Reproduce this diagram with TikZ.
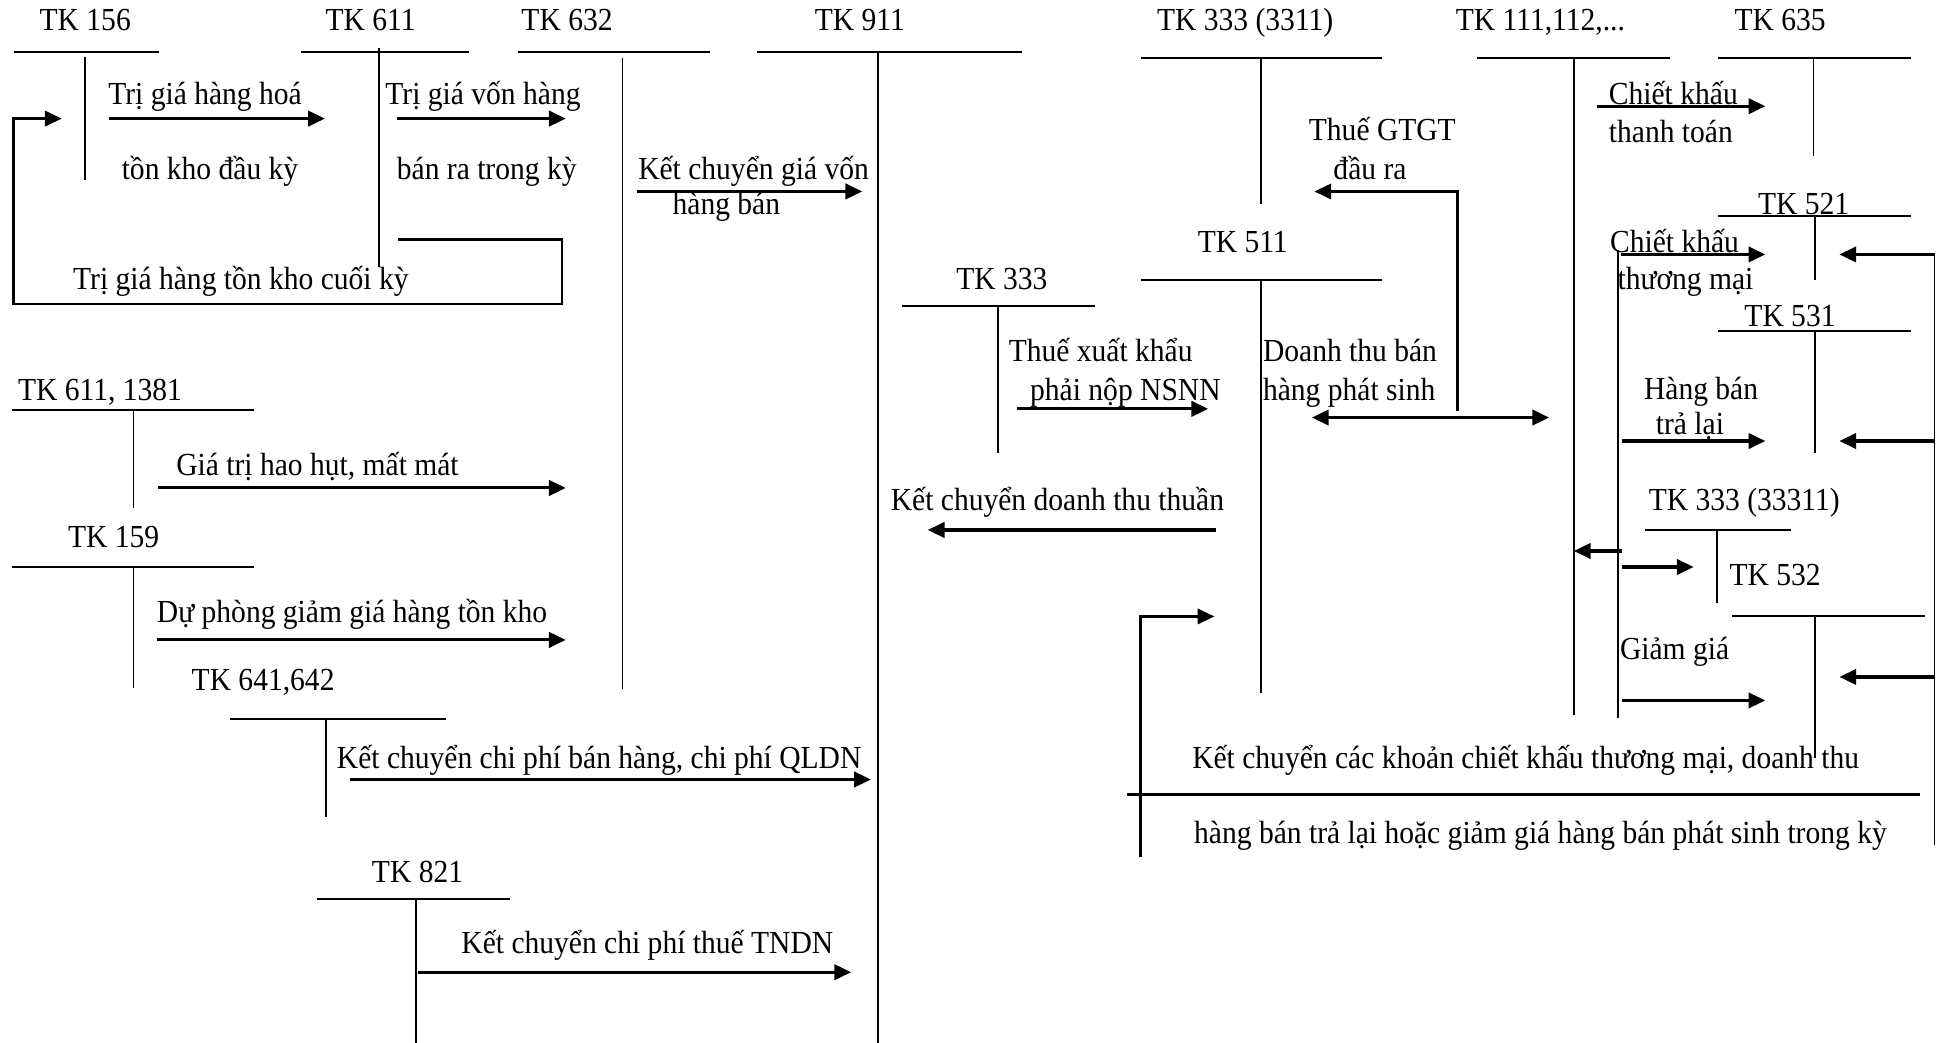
\documentclass[tikz,border=0pt]{standalone}
\usepackage{fontspec}
\setmainfont{Liberation Serif}[FakeStretch=0.92]
\usetikzlibrary{arrows.meta}
\begin{document}
\begin{tikzpicture}[x=0.5pt,y=-0.5pt,
  hl/.style={line width=0.85pt},
  vl/.style={line width=0.7pt},
  arr/.style={line width=1.25pt,-{Triangle[length=6.8pt,width=6.2pt]}},
  darr/.style={line width=1.25pt,{Triangle[length=6.8pt,width=6.2pt]}-{Triangle[length=6.8pt,width=6.2pt]}},
  bent/.style={line width=1.05pt,-{Triangle[length=6.8pt,width=6.2pt]}},
  lbl/.style={inner sep=0pt,anchor=base,yshift=1pt,font=\fontsize{13}{15}\selectfont},
  lblw/.style={lbl,anchor=base west}]
\useasboundingbox[fill=white] (0,0) rectangle (1568,844);

% ---------- T-accounts ----------
\node[lbl] (t156) at (69,27) {TK 156};
\draw[hl] (11,42) -- (129,42); \draw[vl] (69,46) -- (69,146);

\node[lbl] (t611) at (300,27) {TK 611};
\draw[hl] (244,42) -- (380,42); \draw[vl] (307,39) -- (307,216);

\node[lbl] (t632) at (459,27) {TK 632};
\draw[hl] (419,42) -- (575,42); \draw[vl] (504,47) -- (504,558);

\node[lbl] (t911) at (696,27) {TK 911};
\draw[hl] (613,42) -- (827,42); \draw[vl] (711,42) -- (711,844);

\node[lbl] (t3311) at (1008,27) {TK 333 (3311)};
\draw[hl] (924,47) -- (1119,47); \draw[vl] (1021,47) -- (1021,165);

\node[lbl] (t111) at (1247,27) {TK 111,112,...};
\draw[hl] (1196,47) -- (1352,47); \draw[vl] (1274,47) -- (1274,579);

\node[lbl] (t635) at (1441,27) {TK 635};
\draw[hl] (1391,47) -- (1547,47); \draw[vl] (1468,47) -- (1468,126);

\node[lbl] (t511) at (1006,206) {TK 511};
\draw[hl] (924,227) -- (1119,227); \draw[vl] (1021,227) -- (1021,561);

\node[lbl] (t333) at (811,236) {TK 333};
\draw[hl] (730,248) -- (886,248); \draw[vl] (808,248) -- (808,367);

\node[lbl] (t521) at (1460,176) {TK 521};
\draw[hl] (1391,175) -- (1547,175); \draw[vl] (1469,175) -- (1469,227);

\node[lbl] (t531) at (1449,266) {TK 531};
\draw[hl] (1391,268) -- (1547,268); \draw[vl] (1469,268) -- (1469,367);

\node[lbl] (t33311) at (1412,415) {TK 333 (33311)};
\draw[hl] (1332,429) -- (1450,429); \draw[vl] (1390,429) -- (1390,488);

\node[lbl] (t532) at (1437,476) {TK 532};
\draw[hl] (1402,499) -- (1558,499); \draw[vl] (1469,499) -- (1469,614);

\node[lbl] (t1381) at (81,326) {TK 611, 1381};
\draw[hl] (10,332) -- (206,332); \draw[vl] (108,332) -- (108,411);

\node[lbl] (t159) at (92,445) {TK 159};
\draw[hl] (10,459) -- (206,459); \draw[vl] (108,459) -- (108,557);

\node[lbl] (t641) at (213,561) {TK 641,642};
\draw[hl] (186,582) -- (361,582); \draw[vl] (264,582) -- (264,661);

\node[lbl] (t821) at (338,716) {TK 821};
\draw[hl] (257,728) -- (413,728); \draw[vl] (337,728) -- (337,844);

% auxiliary verticals on the right
\draw[vl] (1310,202) -- (1310,581);
\draw[vl] (1566,206) -- (1566,684);

% ---------- left part ----------
\coordinate (a1s) at (88,96); \coordinate (a1e) at (263,96);
\draw[arr] (a1s) -- (a1e);
\node[lbl] (x1) at (166,87) {Trị giá hàng hoá};
\node[lbl] (x2) at (170,147) {tồn kho đầu kỳ};

\coordinate (a2s) at (321,96); \coordinate (a2e) at (458,96);
\draw[arr] (a2s) -- (a2e);
\node[lbl] (x3) at (391,87) {Trị giá vốn hàng};
\node[lbl] (x4) at (394,147) {bán ra trong kỳ};

\coordinate (l1) at (322,194); \coordinate (l2) at (455,194);
\coordinate (l3) at (455,246); \coordinate (l4) at (11,246);
\coordinate (l5) at (11,96); \coordinate (l6) at (50,96);
\draw[bent] (l1) -- (l2) -- (l3) -- (l4) -- (l5) -- (l6);
\node[lbl] (x5) at (195,236) {Trị giá hàng tồn kho cuối kỳ};

\coordinate (a4s) at (516,155); \coordinate (a4e) at (698,155);
\draw[arr] (a4s) -- (a4e);
\node[lbl] (x6) at (610,147) {Kết chuyển giá vốn};
\node[lbl] (x7) at (588,176) {hàng bán};

\coordinate (a5s) at (128,395); \coordinate (a5e) at (458,395);
\draw[arr] (a5s) -- (a5e);
\node[lbl] (x8) at (257,387) {Giá trị hao hụt, mất mát};

\coordinate (a6s) at (127,518); \coordinate (a6e) at (458,518);
\draw[arr] (a6s) -- (a6e);
\node[lbl] (x9) at (285,506) {Dự phòng giảm giá hàng tồn kho};

\coordinate (a7s) at (283,631); \coordinate (a7e) at (705,631);
\draw[arr] (a7s) -- (a7e);
\node[lbl] (x10) at (485,624) {Kết chuyển chi phí bán hàng, chi phí QLDN};

\coordinate (a8s) at (338,787); \coordinate (a8e) at (689,787);
\draw[arr] (a8s) -- (a8e);
\node[lbl] (x11) at (524,774) {Kết chuyển chi phí thuế TNDN};

% ---------- middle part ----------
\coordinate (a9s) at (823,331); \coordinate (a9e) at (978,331);
\draw[arr] (a9s) -- (a9e);
\node[lbl] (x12) at (891,295) {Thuế xuất khẩu};
\node[lbl] (x13) at (911,326) {phải nộp NSNN};

\coordinate (a10s) at (1062,338); \coordinate (a10e) at (1254,338);
\draw[darr] (a10s) -- (a10e);
\node[lblw] (x14) at (1022,295) {Doanh thu bán};
\node[lblw] (x15) at (1022,326) {hàng phát sinh};

\coordinate (g1) at (1180,333); \coordinate (g2) at (1180,155); \coordinate (g3) at (1064,155);
\draw[bent] (g1) -- (g2) -- (g3);
\node[lbl] (x16) at (1119,116) {Thuế GTGT};
\node[lbl] (x17) at (1109,147) {đầu ra};

\coordinate (a12s) at (984,429); \coordinate (a12e) at (751,429);
\draw[arr] (a12s) -- (a12e);
\node[lbl] (x18) at (856,415) {Kết chuyển doanh thu thuần};

\coordinate (k1) at (923,694); \coordinate (k2) at (923,499); \coordinate (k3) at (983,499);
\draw[bent] (k1) -- (k2) -- (k3);

% ---------- right part ----------
\coordinate (a14s) at (1293,86); \coordinate (a14e) at (1429,86);
\draw[arr] (a14s) -- (a14e);
\node[lblw] (x19) at (1302,87) {Chiết khấu};
\node[lblw] (x20) at (1302,117) {thanh toán};

\coordinate (a15s) at (1312,206); \coordinate (a15e) at (1429,206);
\draw[arr] (a15s) -- (a15e);
\node[lblw] (x21) at (1303,206) {Chiết khấu};
\node[lblw] (x22) at (1309,236) {thương mại};
\coordinate (a16s) at (1566,206); \coordinate (a16e) at (1489,206);
\draw[arr] (a16s) -- (a16e);

\coordinate (a17s) at (1313,357); \coordinate (a17e) at (1429,357);
\draw[arr] (a17s) -- (a17e);
\node[lbl] (x23) at (1377,325) {Hàng bán};
\node[lbl] (x24) at (1368,354) {trả lại};
\coordinate (a18s) at (1566,357); \coordinate (a18e) at (1489,357);
\draw[arr] (a18s) -- (a18e);

\coordinate (a19s) at (1313,446); \coordinate (a19e) at (1274,446);
\draw[arr] (a19s) -- (a19e);
\coordinate (a20s) at (1313,459); \coordinate (a20e) at (1371,459);
\draw[arr] (a20s) -- (a20e);

\coordinate (a21s) at (1313,567); \coordinate (a21e) at (1429,567);
\draw[arr] (a21s) -- (a21e);
\node[lblw] (x25) at (1311,536) {Giảm giá};
\coordinate (a22s) at (1566,548); \coordinate (a22e) at (1489,548);
\draw[arr] (a22s) -- (a22e);

\coordinate (s1) at (912,643); \coordinate (s2) at (1554,643);
\draw[line width=1.2pt] (s1) -- (s2);
\node[lbl] (x26) at (1235,624) {Kết chuyển các khoản chiết khấu thương mại, doanh thu};
\node[lbl] (x27) at (1247,685) {hàng bán trả lại hoặc giảm giá hàng bán phát sinh trong kỳ};
\end{tikzpicture}
\end{document}
